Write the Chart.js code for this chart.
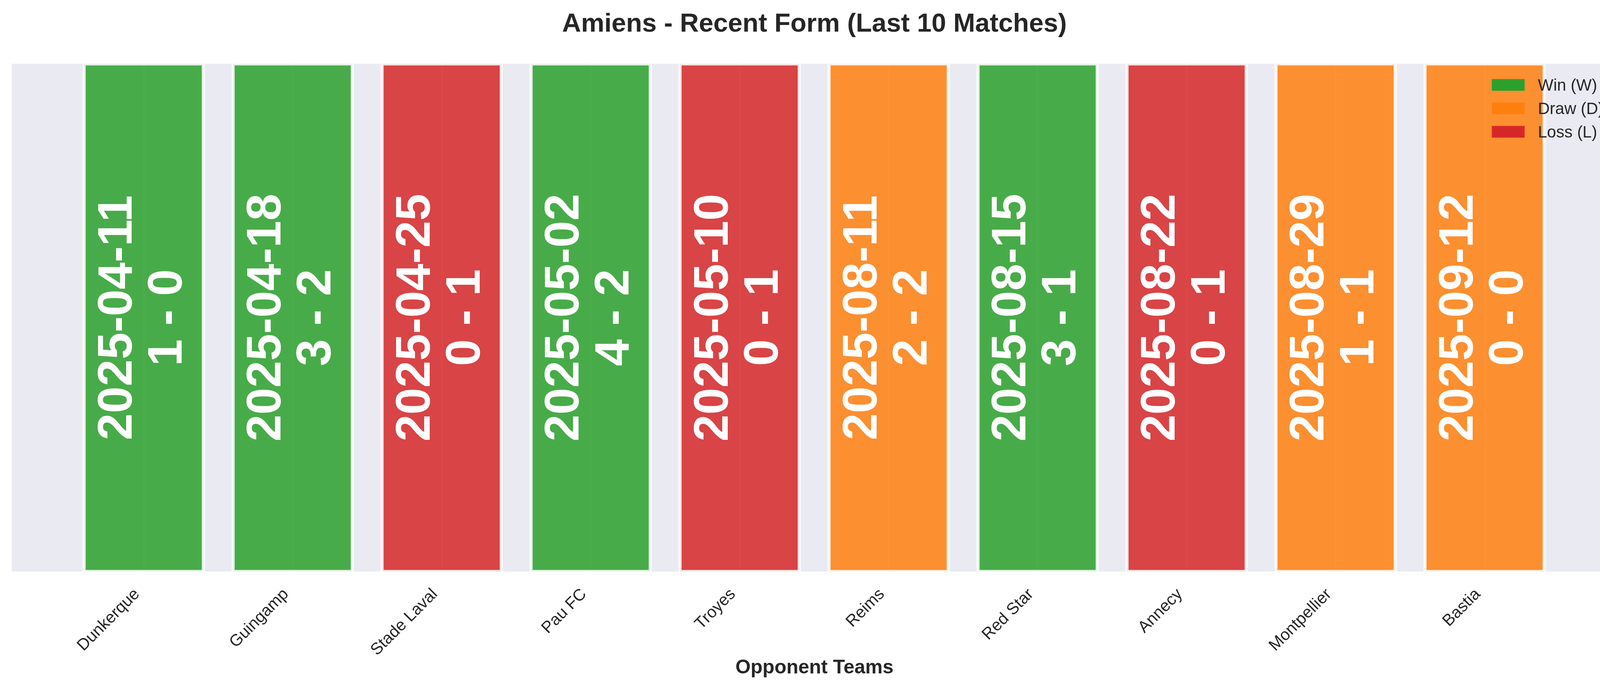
<!DOCTYPE html>
<html>
<head>
<meta charset="utf-8">
<script src="https://cdn.jsdelivr.net/npm/chart.js@4.4.1/dist/chart.umd.min.js"></script>
<style>
body{margin:0;background:#ffffff;}
canvas{display:block;}
</style>
</head>
<body>
<canvas id="formChart" width="4170" height="1769"></canvas>
<script>
// match data, oldest to newest
const teams = ["Dunkerque","Guingamp","Stade Laval","Pau FC","Troyes","Reims","Red Star","Annecy","Montpellier","Bastia"]
const dates = ["2025-04-11","2025-04-18","2025-04-25","2025-05-02","2025-05-10","2025-08-11","2025-08-15","2025-08-22","2025-08-29","2025-09-12"]
const scores = ["1 - 0","3 - 2","0 - 1","4 - 2","0 - 1","2 - 2","3 - 1","0 - 1","1 - 1","0 - 0"]
const results = ["W","W","L","W","L","D","W","L","D","D"]
const barValues = [1,1,1,1,1,1,1,1,1,1]

const resultKeys = ["W","D","L"]
const resultLabels = ["Win (W)","Draw (D)","Loss (L)"]

const solid = {W:"#2ca02c", D:"#ff7f0e", L:"#d62728"}
const fill = {W:"rgba(44,160,44,0.85)", D:"rgba(255,127,14,0.85)", L:"rgba(214,39,40,0.85)"}
const tint = {W:"#e4f2e4", D:"#feeee0", L:"#f9e3e3"}

const FONT = "'Liberation Sans', Arial, sans-serif"
const INK = "#262626"

const points = barValues.map((v,i) => ({x:i, y:v}))

const plotBackground = {
id:"plotBackground",
beforeDraw(chart){
const ctx = chart.ctx
const a = chart.chartArea
ctx.save()
ctx.fillStyle = "#ffffff"
ctx.fillRect(0,0,chart.width,chart.height)
ctx.fillStyle = "#eaeaf2"
ctx.fillRect(a.left,a.top,a.right-a.left,a.bottom-a.top)
ctx.restore()
}
}

// date + score written upright inside each bar
const barText = {
id:"barText",
afterDatasetsDraw(chart){
const ctx = chart.ctx
const a = chart.chartArea
const meta = chart.getDatasetMeta(0)
const cy = (a.top + a.bottom) / 2
ctx.save()
ctx.fillStyle = "#ffffff"
ctx.font = "bold 124px " + FONT
ctx.textAlign = "center"
ctx.textBaseline = "alphabetic"
meta.data.forEach((bar,i) => {
ctx.save()
ctx.translate(bar.x, cy)
ctx.rotate(-Math.PI/2)
ctx.fillText(dates[i], 0, -31)
ctx.fillText(scores[i], 0, 97)
ctx.restore()
})
ctx.restore()
}
}

const formLegend = {
id:"formLegend",
afterDraw(chart){
const ctx = chart.ctx
const a = chart.chartArea
const x0 = a.right - 321
const y0 = a.top + 39
ctx.save()
ctx.font = "42px " + FONT
ctx.textAlign = "left"
ctx.textBaseline = "alphabetic"
resultKeys.forEach((k,i) => {
ctx.fillStyle = solid[k]
ctx.fillRect(x0, y0 + i*60, 84, 30)
ctx.fillStyle = INK
ctx.fillText(resultLabels[i], x0 + 118, y0 + 30 + i*60)
})
ctx.restore()
}
}

new Chart(document.getElementById("formChart"),{
type:"bar",
data:{
datasets:[{
label:"Result",
data:points,
backgroundColor:results.map(r => fill[r]),
borderColor:results.map(r => tint[r]),
borderWidth:4,
borderSkipped:false,
barPercentage:0.8,
categoryPercentage:1,
grouped:false,
order:0
},{
label:"Edge",
data:points,
backgroundColor:"rgba(0,0,0,0)",
borderColor:"#fcfcfd",
borderWidth:4,
borderSkipped:false,
barPercentage:0.821,
categoryPercentage:1,
grouped:false,
order:1
}]
},
options:{
responsive:false,
devicePixelRatio:1,
animation:false,
layout:{padding:{left:30,right:30,top:0,bottom:0}},
plugins:{
legend:{display:false},
tooltip:{enabled:false},
title:{
display:true,
text:"Amiens - Recent Form (Last 10 Matches)",
color:INK,
font:{family:FONT,size:67,weight:"bold"},
padding:{top:22,bottom:61}
}
},
scales:{
x:{
type:"linear",
offset:false,
min:-0.886,
max:9.89,
afterBuildTicks(scale){
scale.ticks = teams.map((t,i) => ({value:i}))
},
afterFit(scale){
scale.height = 306
},
ticks:{
callback:(v) => teams[v],
autoSkip:false,
maxRotation:45,
minRotation:45,
padding:34,
labelOffset:-17,
color:INK,
font:{family:FONT,size:42}
},
grid:{color:"#ffffff",lineWidth:4,drawTicks:false,offset:false},
border:{display:false},
title:{
display:true,
text:"Opponent Teams",
color:INK,
font:{family:FONT,size:50,weight:"bold"},
padding:{top:0,bottom:29}
}
},
y:{
display:false,
min:0,
max:1
}
}
},
plugins:[plotBackground,barText,formLegend]
})
</script>
</body>
</html>
